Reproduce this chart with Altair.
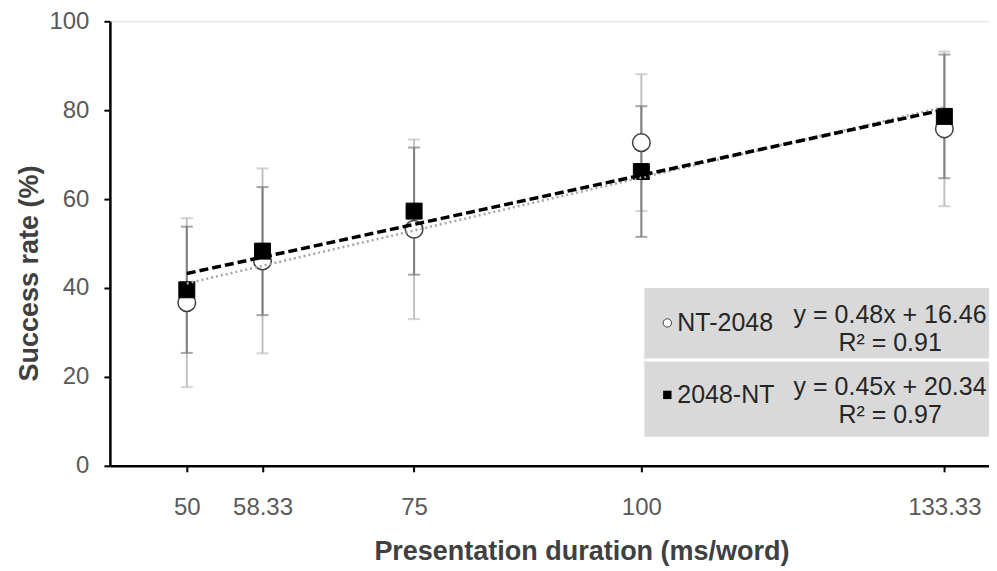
import altair as alt
import pandas as pd

# ---- data ----
durations = [50, 58.33, 75, 100, 133.33]
nt2048_mean = [36.7, 46.1, 53.2, 72.7, 75.8]
nt2048_err = [19.0, 20.8, 20.2, 15.4, 17.4]
r2048nt_mean = [39.6, 48.3, 57.3, 66.2, 78.6]
r2048nt_err = [14.2, 14.4, 14.3, 14.7, 13.9]

series_names = ["NT-2048", "2048-NT"]
equations = ["y = 0.48x + 16.46", "y = 0.45x + 20.34"]
r2_labels = ["R\u00b2 = 0.91", "R\u00b2 = 0.97"]
x_ticks = [50, 58.33, 75, 100, 133.33]
y_ticks = [0, 20, 40, 60, 80, 100]

FONT = "Liberation Sans"


def frame(mean, err):
    return pd.DataFrame({
        "x": durations,
        "y": mean,
        "lo": [m - e for m, e in zip(mean, err)],
        "hi": [m + e for m, e in zip(mean, err)],
    })


df_a = frame(nt2048_mean, nt2048_err)
df_b = frame(r2048nt_mean, r2048nt_err)

xscale = alt.Scale(domain=[41.54, 138.24], nice=False, zero=False)
yscale = alt.Scale(domain=[0, 100], nice=False)

x_axis = alt.Axis(
    values=x_ticks, format=".2~f", grid=False,
    domainColor="black", domainWidth=2.5, tickColor="black", tickWidth=2, tickSize=6,
    labelFont=FONT, labelFontSize=24, labelColor="#595959", labelPadding=24,
    title="Presentation duration (ms/word)", titleFont=FONT, titleFontSize=27,
    titleFontWeight="bold", titleColor="#404040",
    titleX=472, titleY=86, titleBaseline="middle", titleAlign="center",
)
y_axis = alt.Axis(
    values=y_ticks, grid=False,
    domainColor="black", domainWidth=2.5, tickColor="black", tickWidth=2, tickSize=6,
    labelFont=FONT, labelFontSize=24, labelColor="#595959", labelPadding=15,
    title="Success rate (%)", titleFont=FONT, titleFontSize=27,
    titleFontWeight="bold", titleColor="#404040",
    titleX=-80, titleY=252, titleBaseline="middle", titleAlign="center", titleAngle=270,
)

X = alt.X("x:Q", scale=xscale, axis=x_axis)
Y = alt.Y("y:Q", scale=yscale, axis=y_axis)
Xn = alt.X("x:Q", scale=xscale)


def errbars(df, color):
    base = alt.Chart(df)
    rule = base.mark_rule(color=color, strokeWidth=2).encode(
        x=Xn, y=alt.Y("lo:Q", scale=yscale), y2="hi:Q")
    cap_lo = base.mark_tick(color=color, thickness=2, size=12, orient="horizontal").encode(
        x=Xn, y=alt.Y("lo:Q", scale=yscale))
    cap_hi = base.mark_tick(color=color, thickness=2, size=12, orient="horizontal").encode(
        x=Xn, y=alt.Y("hi:Q", scale=yscale))
    return rule + cap_lo + cap_hi


err_a = errbars(df_a, "#c0c0c0")
err_b = errbars(df_b, "#808080")

pts_a = alt.Chart(df_a).mark_point(
    shape="circle", filled=True, fill="white", stroke="#404040", strokeWidth=1.5,
    size=310, opacity=1).encode(x=X, y=Y)
pts_b = alt.Chart(df_b).mark_point(
    shape="square", filled=True, fill="black", stroke="black", strokeWidth=1,
    size=256, opacity=1).encode(x=Xn, y=alt.Y("y:Q", scale=yscale))

trend_a = alt.Chart(df_a).transform_regression(
    "x", "y", extent=[durations[0], durations[-1]]
).mark_line(color="#a6a6a6", strokeWidth=2.5, strokeDash=[2, 3]).encode(
    x=Xn, y=alt.Y("y:Q", scale=yscale))
trend_b = alt.Chart(df_b).transform_regression(
    "x", "y", extent=[durations[0], durations[-1]]
).mark_line(color="black", strokeWidth=3.5, strokeDash=[9, 4]).encode(
    x=Xn, y=alt.Y("y:Q", scale=yscale))

# ---- legend box (plot-relative pixel placement) ----
one = pd.DataFrame({"k": [0]})
box = alt.Chart(one).mark_rect(fill="#d9d9d9").encode(
    x=alt.value(535), x2=alt.value(890), y=alt.value(267), y2=alt.value(416))
sep = alt.Chart(one).mark_rule(stroke="white", strokeWidth=3).encode(
    x=alt.value(535), x2=alt.value(890), y=alt.value(339))

leg_circle = alt.Chart(one).mark_point(
    shape="circle", filled=True, fill="white", stroke="#404040", strokeWidth=1, size=70,
    opacity=1).encode(x=alt.value(558), y=alt.value(302))
leg_square = alt.Chart(one).mark_point(
    shape="square", filled=True, fill="black", size=70, opacity=1).encode(
    x=alt.value(558), y=alt.value(374))


def txt(s, x, y, align="left"):
    return alt.Chart(one).mark_text(
        font=FONT, fontSize=25, color="#262626", align=align, baseline="middle").encode(
        x=alt.value(x), y=alt.value(y), text=alt.value(s))


legend = (box + sep + leg_circle + leg_square
          + txt(series_names[0], 568, 302)
          + txt(series_names[1], 568, 374)
          + txt(equations[0], 781, 294, "center")
          + txt(r2_labels[0], 781, 322, "center")
          + txt(equations[1], 781, 366, "center")
          + txt(r2_labels[1], 781, 394, "center"))

chart = alt.layer(
    err_a, err_b, pts_a, pts_b, trend_a, trend_b, legend
).properties(
    width=880, height=445,
    autosize=alt.AutoSizeParams(type="none"),
    padding={"left": 102, "top": 13, "right": 0, "bottom": 104},
).configure_view(stroke=None).configure(background="white")

chart.save("out.html", embed_options={"renderer": "svg", "actions": False})
